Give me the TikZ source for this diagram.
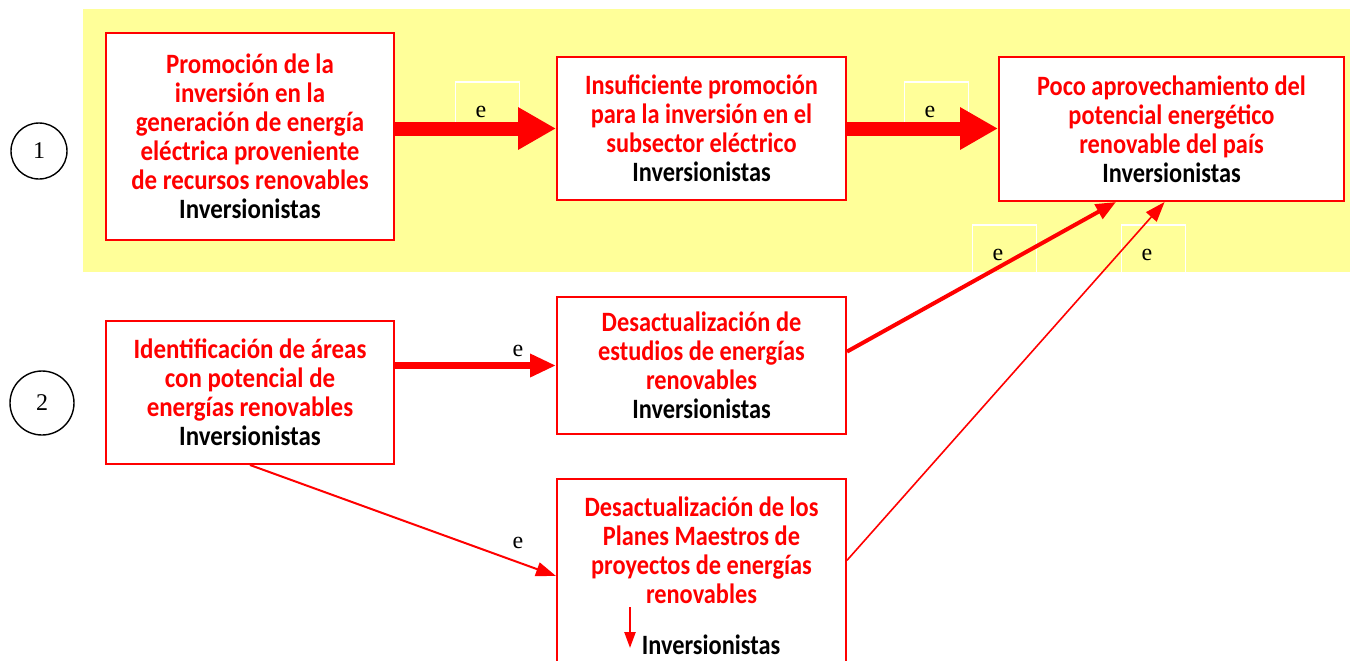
\documentclass[tikz,border=0pt]{standalone}
\usepackage{fontspec}
\setmainfont{Carlito}
\newfontfamily\narrowfont{Carlito}[FakeStretch=0.87]
\newfontfamily\midfont{Carlito}[FakeStretch=0.89]
\newfontfamily\seriffont{Liberation Serif}
\usetikzlibrary{arrows.meta,positioning,calc}
\definecolor{bgyellow}{RGB}{255,255,153}

\begin{document}
\begin{tikzpicture}[
  x=0.5pt, y=-0.5pt,
  font=\bfseries\fontsize{14}{14.5}\selectfont,
  cause/.style={draw=red, line width=1pt, fill=white, align=center,
                text=red, inner sep=2pt,
                font=\midfont\bfseries\fontsize{14}{14.5}\selectfont},
  narrow/.style={cause, font=\narrowfont\bfseries\fontsize{14}{14.5}\selectfont},
  ebox/.style={draw=white, line width=0.8pt, inner sep=0pt, text width=32pt,
               align=left, text height=17.5pt, text depth=6.5pt,
               font=\seriffont\fontsize{12}{12}\selectfont},
  elabel/.style={font=\seriffont\fontsize{12}{12}\selectfont},
  stage/.style={draw, circle, line width=0.7pt, inner sep=0pt,
                font=\seriffont\fontsize{12}{12}\selectfont},
  bigflow/.style={red, line width=7pt, -{Triangle[length=19pt, width=20pt]}},
  midflow/.style={red, line width=3.5pt, -{Triangle[length=13pt, width=11pt]}},
  flow/.style={red, line width=2pt, -{Triangle[length=10pt, width=8pt]}},
  thinflow/.style={red, line width=1pt, -{Triangle[length=10pt, width=7pt]}}
]
\clip (0,0) rectangle (1350,660);

% Level 1 band
\fill[bgyellow] (83,9) rectangle (1350,272);

\node[stage, minimum size=28pt] (one) at (39,151) {1};
\node[stage, minimum size=32pt] (two) at (42,403) {2};

% White label frames
\node[ebox] (e1) at (487.5,106) {\hspace*{10pt}e};
\node[ebox] (e2) at (936.5,106) {\hspace*{10pt}e};
\node[ebox] (e3) at (1004.5,249) {\hspace*{10pt}e};
\node[ebox] (e4) at (1153.5,249) {\hspace*{10pt}e};

% Boxes
\node[cause, minimum width=144pt, minimum height=103.5pt] (promo) at (250,136.5)
  {Promoción de la\\inversión en la\\generación de energía\\eléctrica proveniente\\de recursos renovables\\\textcolor{black}{Inversionistas}};
\node[narrow, minimum width=144.5pt, minimum height=71.5pt] (insuf) at (701.5,128.5)
  {Insuficiente promoción\\para la inversión en el\\subsector eléctrico\\\textcolor{black}{Inversionistas}};
\node[narrow, minimum width=172.5pt, minimum height=72pt] (poco) at (1171.5,129)
  {Poco aprovechamiento del\\potencial energético\\renovable del país\\\textcolor{black}{Inversionistas}};
\node[cause, minimum width=144pt, minimum height=71.5pt] (ident) at (250,392.5)
  {Identificación de áreas\\con potencial de\\energías renovables\\\textcolor{black}{Inversionistas}};
\node[narrow, minimum width=144.5pt, minimum height=68.5pt] (estud) at (701.5,365.5)
  {Desactualización de\\estudios de energías\\renovables\\\textcolor{black}{Inversionistas}};
\node[narrow, minimum width=144.5pt, minimum height=97pt] (plan) at (701.5,576)
  {Desactualización de los\\Planes Maestros de\\proyectos de energías\\renovables\\[11pt]\hspace*{9.5pt}\textcolor{black}{Inversionistas}};

% Connectors
\draw[bigflow] (promo.east |- insuf.west) -- (insuf.west);
\draw[bigflow] (insuf.east) -- (insuf.east -| poco.west);
\draw[midflow] (ident.east |- estud.west) -- (estud.west);
\draw[thinflow] (ident.south) -- (plan.west);
\draw[flow] ($(estud.north east)!0.4!(estud.south east)$)
  -- ($(poco.south west)!0.34!(poco.south east)$);
\draw[thinflow, line width=0.8pt] ($(plan.north east)!0.42!(plan.south east)$)
  -- ($(poco.south west)!0.48!(poco.south east)$);

\node[elabel] (e5) at (518,351) {e};
\node[elabel] (e6) at (518,543) {e};

% Drop marker inside the last box
\coordinate (droptop) at (630,607);
\coordinate (droptip) at (630,648);
\draw[thinflow, line width=1.2pt, -{Triangle[length=8pt, width=5.5pt]}]
  (droptop) -- (droptip);

\end{tikzpicture}
\end{document}
